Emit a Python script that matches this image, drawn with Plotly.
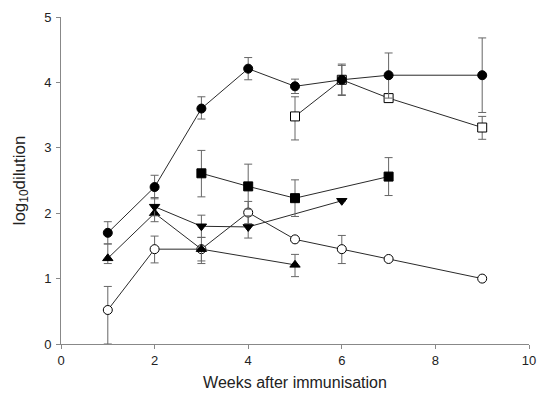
import plotly.graph_objects as go

# Data
weeks_fc = [1, 2, 3, 4, 5, 6, 7, 9]
fc_vals = [1.70, 2.40, 3.60, 4.21, 3.94, 4.04, 4.11, 4.11]
fc_up = [0.17, 0.18, 0.18, 0.17, 0.11, 0.24, 0.34, 0.57]
fc_dn = [0.17, 0.18, 0.16, 0.17, 0.11, 0.23, 0.35, 0.57]

weeks_os = [5, 6, 7, 9]
os_vals = [3.48, 4.04, 3.76, 3.31]
os_up = [0.30, 0.22, 0.05, 0.17]
os_dn = [0.36, 0.24, 0.05, 0.18]

weeks_fs = [3, 4, 5, 7]
fs_vals = [2.61, 2.41, 2.23, 2.56]
fs_up = [0.35, 0.34, 0.28, 0.29]
fs_dn = [0.36, 0.35, 0.28, 0.29]

weeks_it = [2, 3, 4, 6]
it_vals = [2.10, 1.80, 1.79, 2.19]
it_up = [0.14, 0.17, 0.17, 0.0]
it_dn = [0.14, 0.17, 0.17, 0.0]

weeks_tr = [1, 2, 3, 5]
tr_vals = [1.31, 2.00, 1.45, 1.21]
tr_up = [0.22, 0.13, 0.0, 0.16]
tr_dn = [0.08, 0.13, 0.22, 0.18]

weeks_oc = [1, 2, 3, 4, 5, 6, 7, 9]
oc_vals = [0.52, 1.45, 1.45, 2.01, 1.60, 1.45, 1.30, 1.00]
oc_up = [0.36, 0.20, 0.18, 0.17, 0.0, 0.21, 0.0, 0.0]
oc_dn = [0.52, 0.21, 0.18, 0.17, 0.0, 0.22, 0.0, 0.0]

x_ticks = [0, 2, 4, 6, 8, 10]
y_ticks = [0, 1, 2, 3, 4, 5]

LINE = "#2a2a2a"
ERR = "#666666"
FONT = "Liberation Sans, Arial, sans-serif"

def series(x, y, up, dn, symbol, fill):
    return go.Scatter(
        x=x, y=y, mode="lines+markers",
        line=dict(color=LINE, width=1),
        marker=dict(symbol=symbol, size=9, color=fill,
                    line=dict(color="black", width=1)),
        error_y=dict(type="data", array=up, arrayminus=dn, symmetric=False,
                     color=ERR, thickness=1, width=4),
        showlegend=False, cliponaxis=False,
    )

fig = go.Figure()
fig.add_trace(series(weeks_oc, oc_vals, oc_up, oc_dn, "circle", "white"))
fig.add_trace(series(weeks_tr, tr_vals, tr_up, tr_dn, "triangle-up", "black"))
fig.add_trace(series(weeks_it, it_vals, it_up, it_dn, "triangle-down", "black"))
fig.add_trace(series(weeks_fs, fs_vals, fs_up, fs_dn, "square", "black"))
fig.add_trace(series(weeks_os, os_vals, os_up, os_dn, "square", "white"))
fig.add_trace(series(weeks_fc, fc_vals, fc_up, fc_dn, "circle", "black"))

axis_common = dict(
    showgrid=False, zeroline=False, showline=True, linecolor="#888888",
    linewidth=1, ticks="outside", ticklen=4, tickcolor="#888888",
    automargin=False,
    tickfont=dict(family=FONT, size=13, color="#222222"),
)

fig.update_layout(
    width=537, height=394,
    margin=dict(l=61, r=8, t=17, b=50),
    paper_bgcolor="white", plot_bgcolor="white",
    xaxis=dict(range=[0, 10], tickvals=x_ticks, ticktext=[str(v) for v in x_ticks],
               title=dict(text="Weeks after immunisation", standoff=10,
                          font=dict(family=FONT, size=16, color="#222222")),
               **axis_common),
    yaxis=dict(range=[0, 5], tickvals=y_ticks, ticktext=[str(v) for v in y_ticks],
               ticklabelstandoff=2,
               title=dict(text="log<sub>10</sub>dilution", standoff=14,
                          font=dict(family=FONT, size=17, color="#222222")),
               **axis_common),
)

fig.write_html("out.html")
